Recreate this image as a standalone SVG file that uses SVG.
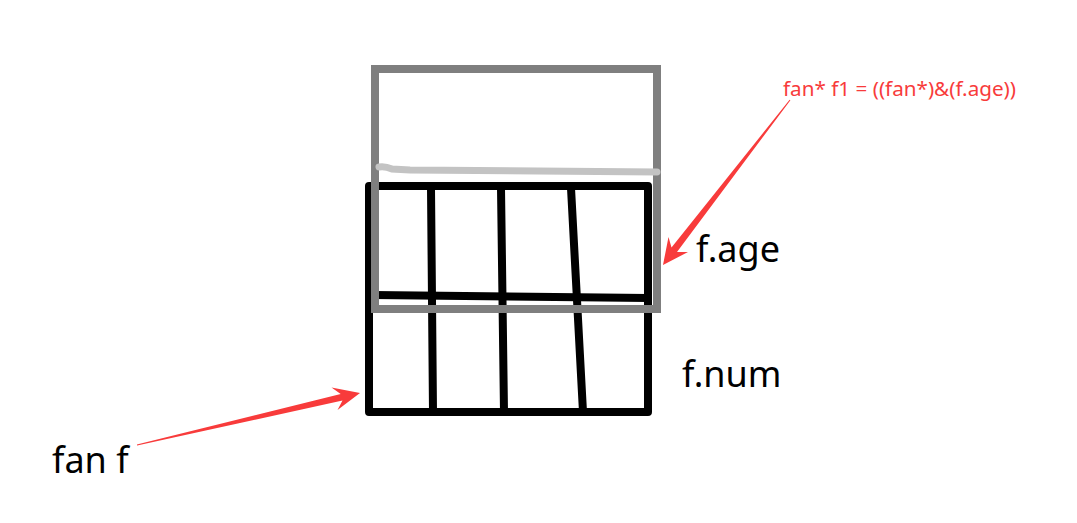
<svg xmlns="http://www.w3.org/2000/svg" width="1077" height="523" viewBox="0 0 1077 523">
<style>
.blk{fill:none;stroke:#000;stroke-width:8;stroke-linecap:round;stroke-linejoin:round}
.gry{fill:none;stroke:#7f7f7f;stroke-width:8}
.lt{fill:none;stroke:#c3c3c3;stroke-width:7;stroke-linecap:round}
.arr{fill:#f83b3b}
.lbl{font-family:"Noto Sans","Open Sans",sans-serif;font-size:36px;fill:#000}
.note{font-family:"Noto Sans","Open Sans",sans-serif;font-size:20px;fill:#f83b3b}
</style>
<rect width="1077" height="523" fill="#fff"/>
<g id="grid">
<rect class="blk" x="369" y="186" width="279" height="226" stroke-linecap="butt" stroke-linejoin="miter"/>
<path class="blk" d="M373 295 L648 298"/>
<path class="blk" d="M431 188 L433 412"/>
<path class="blk" d="M501 188 L504 412"/>
<path class="blk" d="M571 188 L583 412"/>
</g>
<g id="pointer-box">
<rect class="gry" x="375" y="69" width="282" height="240"/>
<path class="lt" d="M379 167 Q385 166 392 169 L410 170 L657 172"/>
</g>
<g id="labels">
<text class="lbl" x="696" y="262">f.age</text>
<text class="lbl" x="682" y="387">f.num</text>
<text class="lbl" x="52" y="473">fan f</text>
<text class="note" x="783" y="96" textLength="233" lengthAdjust="spacingAndGlyphs">fan* f1 = ((fan*)&amp;(f.age))</text>
</g>
<g id="connectors">
<polygon class="arr" points="790.4,100.3 677,252 688,252 663,265 668.5,237 671.5,247.5 789.6,99.7"/>
<polygon class="arr" points="136.9,444.5 340.7,394 331.5,387.5 360,393 337.5,410 342.5,400.5 137.1,445.5"/>
</g>
</svg>
